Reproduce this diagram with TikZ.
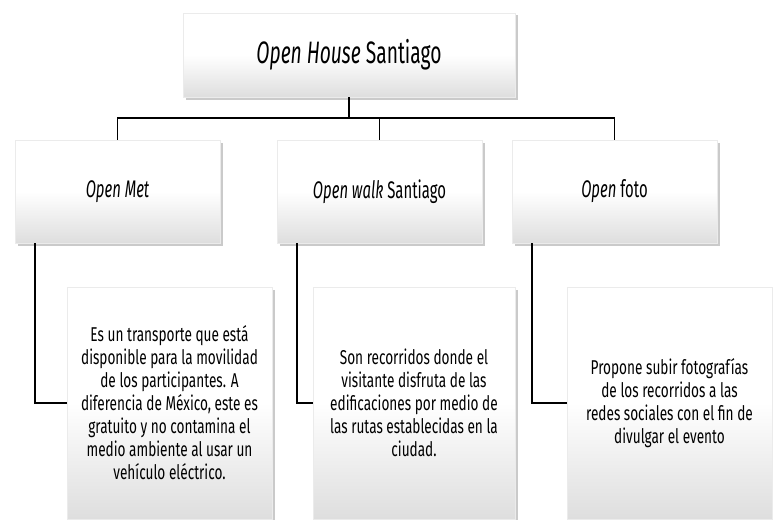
\documentclass[tikz,border=0pt]{standalone}
\usepackage{fontspec}
\setmainfont{Fira Sans}[FakeStretch=0.68]
\newfontfamily\headfont{Fira Sans}[FakeStretch=0.62]
\usetikzlibrary{positioning, calc, shadows}
\tikzstyle{card} = [rectangle, text centered, draw=black!8, top color=white, bottom color=black!13, middle color=white, drop shadow={shadow xshift=2.5pt, shadow yshift=-2.5pt, opacity=0.35, fill=black!60}]
\tikzstyle{rootbox} = [card, minimum width=332pt, minimum height=84pt, font=\headfont\fontsize{31}{34}\selectfont]
\tikzstyle{branchbox} = [card, minimum width=205pt, minimum height=103pt, font=\headfont\fontsize{24}{27}\selectfont]
\tikzstyle{detailbox} = [card, minimum width=205pt, minimum height=232pt, align=center, font=\fontsize{20}{23}\selectfont]
\tikzstyle{link} = [line width=1.8pt, black]

\begin{document}
\begin{tikzpicture}[x=1pt, y=-1pt]
\useasboundingbox (0,0) rectangle (773,519);
\node (root) [rootbox] at (349,55) {\textit{Open House} Santiago};
\node (met) [branchbox] at (117.5,191.5) {\textit{Open Met}};
\node (walk) [branchbox] at (379.5,191.5) {\textit{Open walk} Santiago};
\node (foto) [branchbox] at (614.5,191.5) {\textit{Open} foto};
\node (metinfo) [detailbox] at (169.5,403) {Es un transporte que está\\disponible para la movilidad\\de los participantes. A\\diferencia de México, este es\\gratuito y no contamina el\\medio ambiente al usar un\\vehículo eléctrico.};
\node (walkinfo) [detailbox, minimum width=202pt] at (414,403) {Son recorridos donde el\\visitante disfruta de las\\edificaciones por medio de\\las rutas establecidas en la\\ciudad.};
\node (fotoinfo) [detailbox] at (669.5,403) {Propone subir fotografías\\de los recorridos a las\\redes sociales con el fin de\\divulgar el evento};

\draw [link] (root.south) -- ++(0,21) coordinate (hub);
\draw [link] (hub) -| (met.north);
\draw [link] (hub) -| (walk.north);
\draw [link] (hub) -| (foto.north);
\draw [link] ($(met.south west)+(20,0)$) |- (metinfo.west);
\draw [link] ($(walk.south west)+(20,0)$) |- (walkinfo.west);
\draw [link] ($(foto.south west)+(20,0)$) |- (fotoinfo.west);
\end{tikzpicture}
\end{document}
